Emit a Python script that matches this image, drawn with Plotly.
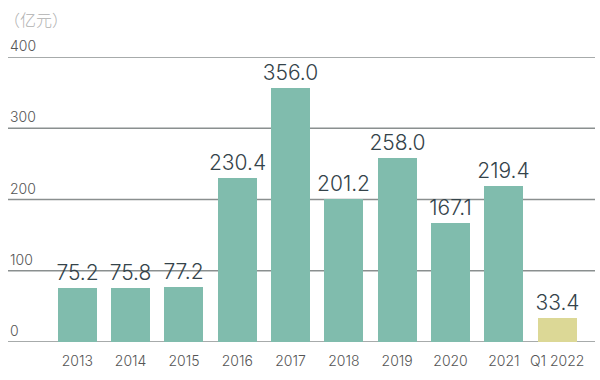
import plotly.graph_objects as go

categories = ["2013", "2014", "2015", "2016", "2017", "2018", "2019", "2020", "2021", "Q1 2022"]
values = [75.2, 75.8, 77.2, 230.4, 356.0, 201.2, 258.0, 167.1, 219.4, 33.4]
y_ticks = [0, 100, 200, 300, 400]
unit_label = "（亿元）"

teal = "#80bcad"
yellow = "#dcd896"
colors = [teal] * (len(values) - 1) + [yellow]

fig = go.Figure()
fig.add_trace(go.Bar(
    x=list(range(len(categories))),
    y=values,
    marker=dict(color=colors, line=dict(width=0)),
    width=0.73,
    text=[f"{v:.1f}" for v in values],
    textposition="outside",
    constraintext="none",
    textfont=dict(size=21, color="#34434a", family="Inter", weight=300),
    cliponaxis=False,
    hoverinfo="skip",
))

annotations = [
    dict(x=0, xref="paper", y=t, yref="y", text=str(t), showarrow=False,
         xanchor="left", yanchor="bottom", yshift=1,
         font=dict(size=14, color="#555", family="Inter", weight=300))
    for t in y_ticks
]
annotations.append(dict(x=0, xref="paper", y=1, yref="paper", yshift=24, text=unit_label,
                        showarrow=False, xanchor="left", yanchor="bottom", xshift=-6,
                        font=dict(size=16, color="#b0b0b0", family="Noto Sans CJK SC", weight=300)))

shapes = [
    dict(type="line", xref="paper", x0=0, x1=1, yref="y", y0=t, y1=t,
         line=dict(color="#8a8f8f", width=1.5), layer="below")
    for t in y_ticks
]

fig.update_layout(
    width=600, height=380,
    margin=dict(l=8, r=5, t=57, b=38),
    paper_bgcolor="white", plot_bgcolor="white",
    showlegend=False,
    annotations=annotations,
    shapes=shapes,
    xaxis=dict(
        range=[-1.30, 9.71], automargin=False,
        tickmode="array", tickvals=list(range(len(categories))), ticktext=categories,
        showgrid=False, zeroline=False, showline=False, ticks="",
        ticklabelstandoff=9,
        tickfont=dict(size=14, color="#555", family="Inter", weight=300),
    ),
    yaxis=dict(
        range=[0, 400], automargin=False,
        showticklabels=False,
        showgrid=False, zeroline=False, showline=False, ticks="",
    ),
    bargap=0,
)

fig.write_html("out.html", post_script="document.body.style.margin='0';",
               config={"displayModeBar": False})
